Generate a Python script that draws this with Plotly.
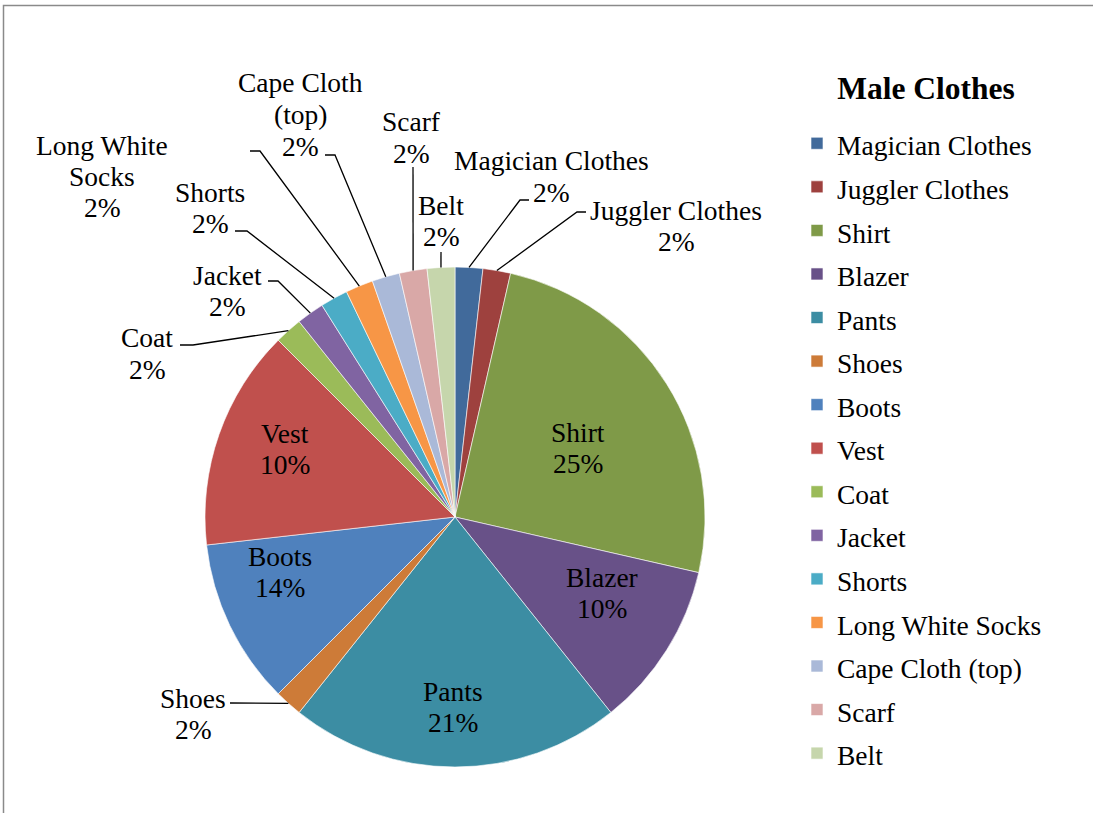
import math
import plotly.graph_objects as go

# ---------------- data ----------------
categories = ["Magician Clothes", "Juggler Clothes", "Shirt", "Blazer", "Pants",
              "Shoes", "Boots", "Vest", "Coat", "Jacket", "Shorts",
              "Long White Socks", "Cape Cloth (top)", "Scarf", "Belt"]
counts = [1, 1, 14, 6, 12, 1, 6, 8, 1, 1, 1, 1, 1, 1, 1]
pct_labels = ["2%", "2%", "25%", "10%", "21%", "2%", "14%", "10%",
              "2%", "2%", "2%", "2%", "2%", "2%", "2%"]
label_lines = [["Magician Clothes"], ["Juggler Clothes"], ["Shirt"], ["Blazer"],
               ["Pants"], ["Shoes"], ["Boots"], ["Vest"], ["Coat"], ["Jacket"],
               ["Shorts"], ["Long White", "Socks"], ["Cape Cloth", "(top)"],
               ["Scarf"], ["Belt"]]

# ---------------- style / layout ----------------
colors = ["#416A9B", "#9E413E", "#7F9A48", "#685188", "#3C8DA3", "#CD7B38",
          "#4F81BD", "#C0504D", "#9BBB59", "#8064A2", "#4BACC6", "#F79646",
          "#AAB9D8", "#D9A8A7", "#C6D6AC"]
W, H = 1093, 813
CX, CY, R = 455, 517, 250
FONT = "Liberation Serif, Times New Roman, serif"
FS = 27.5
LINE_H = 31.5
LEGEND_FS = 31.2   # sets legend row pitch; text itself drawn at FS

# label anchor (centre of first line) in pixels
label_pos = {
    "Magician Clothes": (551, 161), "Juggler Clothes": (676, 210),
    "Shirt": (578, 432), "Blazer": (602, 577), "Pants": (453, 691),
    "Shoes": (193, 698), "Boots": (280, 556), "Vest": (285, 433),
    "Coat": (147, 338), "Jacket": (227, 275), "Shorts": (210, 192),
    "Long White Socks": (102, 145), "Cape Cloth (top)": (300, 83),
    "Scarf": (411, 122), "Belt": (441, 205),
}
# leader-line points near the label (pixels); slice end is computed from data
leader_pts = {
    "Magician Clothes": [(529, 200), (520, 200)],
    "Juggler Clothes": [(586, 212), (577, 212)],
    "Belt": [(441, 252)],
    "Scarf": [(413, 167)],
    "Cape Cloth (top)": [(325, 155), (335, 155)],
    "Long White Socks": [(250, 151), (260, 151)],
    "Shorts": [(235, 231), (247, 231)],
    "Jacket": [(268, 281), (278, 281)],
    "Coat": [(180, 345), (193, 345)],
    "Shoes": [(230, 703)],
}


def px(x):
    return x / W


def py(y):
    return 1 - y / H


legend_labels = [f"<span style='font-size:{FS}px'>{c}</span>" for c in categories]

fig = go.Figure(go.Pie(
    labels=legend_labels, values=counts, sort=False, direction="clockwise",
    rotation=0, marker=dict(colors=colors, line=dict(color="white", width=0.6)),
    textinfo="none", hoverinfo="label+percent",
    domain=dict(x=[px(CX - R), px(CX + R)], y=[py(CY + R), py(CY - R)]),
))

annotations = []
shapes = []
total = sum(counts)
cum = 0
for cat, v, pct, lines in zip(categories, counts, pct_labels, label_lines):
    mid = (cum + v / 2) / total * 2 * math.pi
    cum += v
    lx, ly = label_pos[cat]
    for i, t in enumerate(lines + [pct]):
        annotations.append(dict(
            x=px(lx), y=py(ly + i * LINE_H), xref="paper", yref="paper",
            text=t, showarrow=False, xanchor="center", yanchor="middle",
            font=dict(family=FONT, size=FS, color="black")))
    if cat in leader_pts:
        ex = CX + R * math.sin(mid)
        ey = CY - R * math.cos(mid)
        pts = leader_pts[cat] + [(ex, ey)]
        path = "M " + " L ".join(f"{px(a):.5f},{py(b):.5f}" for a, b in pts)
        shapes.append(dict(type="path", xref="paper", yref="paper", path=path,
                           line=dict(color="black", width=1.3)))

# outer chart-area border (only top/left visible)
shapes.append(dict(type="rect", xref="paper", yref="paper",
                   x0=px(3.5), x1=1.2, y0=-0.2, y1=py(5.5),
                   line=dict(color="#8A8A8A", width=1.5)))

fig.update_layout(
    width=W, height=H, margin=dict(l=0, r=0, t=0, b=0),
    paper_bgcolor="white", plot_bgcolor="white",
    font=dict(family=FONT, size=FS, color="black"),
    title=dict(text="Male Clothes", x=px(926), xanchor="center",
               y=py(88), yanchor="middle", xref="paper", yref="container",
               font=dict(family=FONT, size=31.5, color="black", weight="bold")),
    legend=dict(x=px(797), xanchor="left", y=py(116.5), yanchor="top",
                font=dict(family=FONT, size=LEGEND_FS, color="black"),
                bgcolor="rgba(0,0,0,0)", borderwidth=0),
    annotations=annotations, shapes=shapes,
)

fig.write_html("out.html")
